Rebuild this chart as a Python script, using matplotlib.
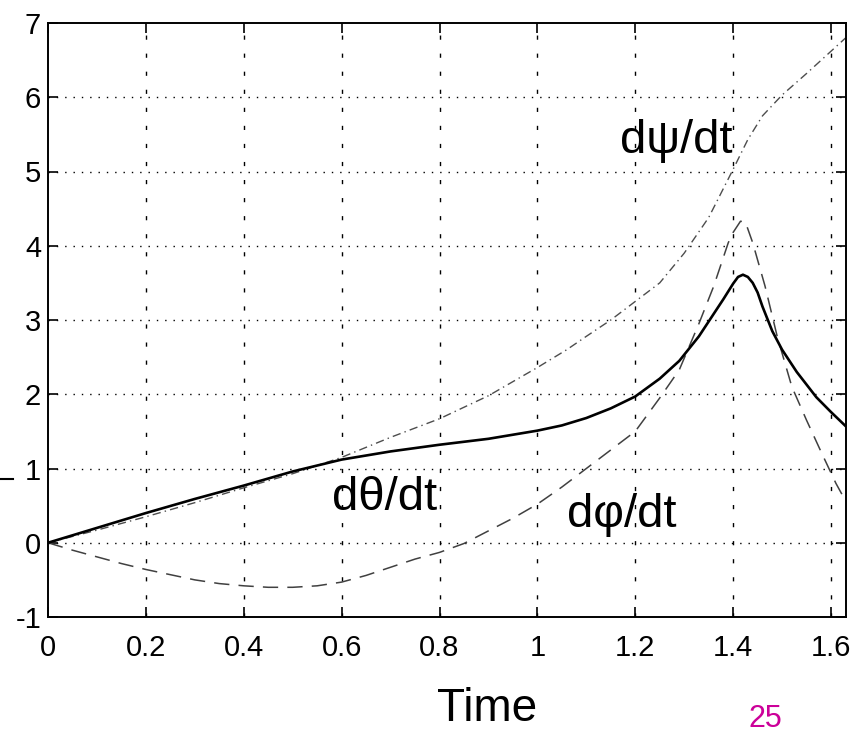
import matplotlib
matplotlib.use("Agg")
import matplotlib.pyplot as plt
from matplotlib.lines import Line2D
from matplotlib import font_manager

# ---- data ----
theta_t = [0, 0.1, 0.2, 0.3, 0.4, 0.5, 0.6, 0.7, 0.8, 0.9, 1.0, 1.05, 1.1, 1.15,
           1.2, 1.25, 1.29, 1.33, 1.36, 1.38, 1.40, 1.41, 1.42, 1.43, 1.44, 1.45,
           1.46, 1.48, 1.50, 1.53, 1.57, 1.60, 1.63]
theta_v = [0, 0.2, 0.4, 0.59, 0.77, 0.96, 1.12, 1.23, 1.32, 1.40, 1.51, 1.58, 1.68, 1.81,
           1.97, 2.21, 2.45, 2.78, 3.08, 3.28, 3.49, 3.58, 3.61, 3.58, 3.50, 3.37,
           3.18, 2.85, 2.60, 2.30, 1.96, 1.76, 1.57]

phi_t = [0, 0.05, 0.1, 0.15, 0.2, 0.25, 0.3, 0.35, 0.4, 0.45, 0.5, 0.55, 0.6, 0.65,
         0.7, 0.75, 0.8, 0.85, 0.9, 0.95, 1.0, 1.05, 1.1, 1.15, 1.2, 1.25, 1.29,
         1.33, 1.36, 1.39, 1.40, 1.415, 1.425, 1.44, 1.465, 1.49, 1.52, 1.55, 1.58,
         1.61, 1.625]
phi_v = [0, -0.10, -0.19, -0.28, -0.36, -0.43, -0.50, -0.55, -0.58, -0.60, -0.60,
         -0.58, -0.53, -0.44, -0.33, -0.22, -0.13, -0.01, 0.16, 0.33, 0.52, 0.75,
         1.0, 1.25, 1.50, 1.95, 2.33, 2.95, 3.45, 4.04, 4.18, 4.33, 4.32, 4.04,
         3.46, 2.78, 2.10, 1.65, 1.22, 0.80, 0.62]

psi_t = [0, 0.1, 0.2, 0.3, 0.4, 0.5, 0.6, 0.7, 0.8, 0.9, 1.0, 1.06, 1.1, 1.15, 1.2,
         1.25, 1.3, 1.35, 1.4, 1.43, 1.46, 1.5, 1.55, 1.6, 1.63]
psi_v = [0, 0.17, 0.35, 0.54, 0.74, 0.93, 1.15, 1.42, 1.67, 1.98, 2.36, 2.60, 2.78,
         3.0, 3.25, 3.50, 3.90, 4.38, 5.03, 5.43, 5.75, 6.03, 6.32, 6.62, 6.8]

x_ticks = [0, 0.2, 0.4, 0.6, 0.8, 1.0, 1.2, 1.4, 1.6]
x_labels = ["0", "0.2", "0.4", "0.6", "0.8", "1", "1.2", "1.4", "1.6"]
y_ticks = [-1, 0, 1, 2, 3, 4, 5, 6, 7]
y_labels = ["-1", "0", "1", "2", "3", "4", "5", "6", "7"]

names = {f.name for f in font_manager.fontManager.ttflist}
narrow = "Liberation Sans Narrow" if "Liberation Sans Narrow" in names else "Liberation Sans"
main_font = ["Liberation Sans", "DejaVu Sans"]

fig = plt.figure(figsize=(8.61, 7.36), dpi=100)
ax = fig.add_axes([48/861, 1-617/736, (846-48)/861, (617-23)/736])

ax.plot(psi_t, psi_v, color="0.3", lw=1.0, linestyle=(0, (6, 3, 1, 3)))
ax.plot(phi_t, phi_v, color="0.25", lw=1.1, linestyle=(0, (10, 6)))
ax.plot(theta_t, theta_v, color="black", lw=1.9)

ax.set_xlim(0, 1.6306)
ax.set_ylim(-1, 7)
ax.set_xticks(x_ticks)
ax.set_xticklabels(x_labels)
ax.set_yticks(y_ticks)
ax.set_yticklabels(y_labels)

for yv in y_ticks[1:-1]:
    ax.axhline(yv, color="black", lw=1.0, linestyle=(0, (1, 5)), zorder=0)
for xv in x_ticks[1:]:
    ax.axvline(xv, color="black", lw=1.0, linestyle=(0, (3, 10)), zorder=0)

for s in ax.spines.values():
    s.set_linewidth(1.4)
ax.tick_params(direction="in", length=7, width=1.2, top=True, right=True,
               labelsize=21)
ax.tick_params(axis="x", pad=12)
ax.tick_params(axis="y", pad=5)
for lab in ax.get_xticklabels() + ax.get_yticklabels():
    lab.set_fontfamily([narrow, "DejaVu Sans"])

ax.text(1.169, 5.25, "dψ/dt", fontsize=34, family=main_font, ha="left", va="baseline")
ax.text(0.580, 0.444, "dθ/dt", fontsize=34, family=main_font, ha="left", va="baseline")
ax.text(1.060, 0.215, "dφ/dt", fontsize=34, family=main_font, ha="left", va="baseline")

fig.text(487/861, 1-709/736, "Time", fontsize=33, family=main_font, ha="center", va="center")
fig.text(749/861, 2/736, "25", fontsize=22, family=main_font, color="#cc0099",
         ha="left", va="bottom")

fig.add_artist(Line2D([0/861, 13/861], [1-479/736, 1-479/736], color="black", lw=1.5))

fig.savefig("out.png", dpi=100)
